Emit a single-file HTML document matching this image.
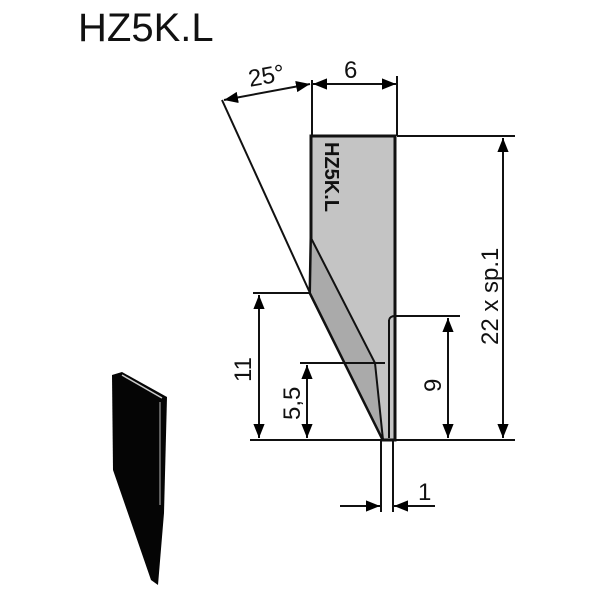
<!DOCTYPE html>
<html><head><style>body{margin:0;background:#fff}svg{display:block}</style></head><body>
<svg width="600" height="600" viewBox="0 0 600 600" xmlns="http://www.w3.org/2000/svg" font-family="Liberation Sans, sans-serif">
<defs>
<marker id="a" viewBox="0 0 10 10" refX="10" refY="5" markerWidth="7" markerHeight="7" orient="auto-start-reverse"><path d="M0,1 L10,5 L0,9 z" fill="#000"/></marker>
</defs>
<text x="78" y="41" font-size="40" fill="#111">HZ5K.L</text>
<!-- blade -->
<polygon points="311,136 395,136 395,440 383,440 310,293 311,238" fill="#c4c4c4" stroke="#111" stroke-width="3"/>
<polygon points="311,238 375,363 383,440 310,293" fill="#aaa" stroke="#111" stroke-width="2"/>
<line x1="389" y1="320" x2="389" y2="438" stroke="#111" stroke-width="2"/>
<path d="M389,320 Q390,316 395,316" fill="none" stroke="#111" stroke-width="2"/>
<text x="0" y="0" font-size="20" font-weight="bold" fill="#111" transform="translate(325,142) rotate(90)">HZ5K.L</text>
<g stroke="#111" stroke-width="2" fill="none">
<line x1="222" y1="100" x2="310" y2="293"/>
<line x1="312" y1="80" x2="312" y2="136"/>
<line x1="397" y1="76" x2="397" y2="136"/>
<line x1="397" y1="136" x2="515" y2="136"/>
<line x1="250" y1="440" x2="515" y2="440"/>
<line x1="253" y1="293" x2="309" y2="293"/>
<line x1="300" y1="363" x2="385" y2="363"/>
<line x1="395" y1="316" x2="460" y2="316"/>
<line x1="381" y1="440" x2="381" y2="512"/>
<line x1="393" y1="440" x2="393" y2="512"/>
<line x1="224" y1="100" x2="310" y2="84" marker-start="url(#a)" marker-end="url(#a)"/>
<line x1="313" y1="84" x2="396" y2="84" marker-start="url(#a)" marker-end="url(#a)"/>
<line x1="503" y1="138" x2="503" y2="438" marker-start="url(#a)" marker-end="url(#a)"/>
<line x1="448" y1="318" x2="448" y2="438" marker-start="url(#a)" marker-end="url(#a)"/>
<line x1="259" y1="295" x2="259" y2="438" marker-start="url(#a)" marker-end="url(#a)"/>
<line x1="307" y1="365" x2="307" y2="438" marker-start="url(#a)" marker-end="url(#a)"/>
<line x1="340" y1="506" x2="380" y2="506" marker-end="url(#a)"/>
<line x1="435" y1="506" x2="394" y2="506" marker-end="url(#a)"/>
</g>
<g font-size="24" fill="#111">
<text x="248" y="84" transform="rotate(-10 265 75)">25°</text>
<text x="344" y="78">6</text>
<text x="418" y="500">1</text>
<text transform="translate(498,345) rotate(-90)">22 x sp.1</text>
<text transform="translate(441,392) rotate(-90)">9</text>
<text transform="translate(251,382) rotate(-90)">11</text>
<text transform="translate(300,420) rotate(-90)">5,5</text>
</g>
<!-- black small blade -->
<polygon points="112,375 122,372 167,397 164,513 158,585 151,580 113,470" fill="#050505"/>
<line x1="122" y1="375" x2="162" y2="398" stroke="#ccc" stroke-width="1.5"/>
<line x1="160" y1="402" x2="160" y2="505" stroke="#999" stroke-width="1.2"/>
</svg>
</body></html>
